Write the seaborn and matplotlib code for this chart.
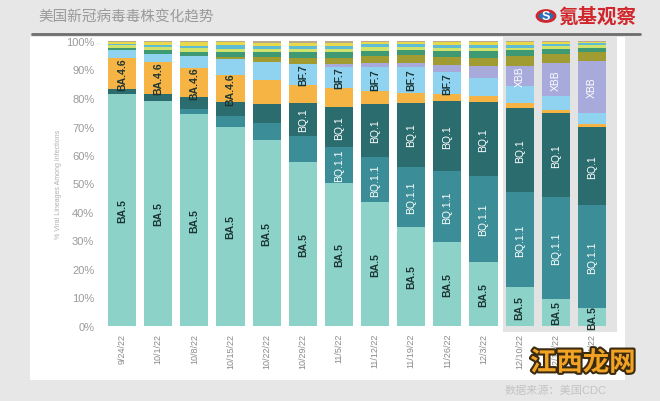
import numpy as np
import pandas as pd
import matplotlib
matplotlib.use('Agg')
import matplotlib.pyplot as plt
import matplotlib.patheffects as pe
from matplotlib.patches import Rectangle, Circle
import seaborn as sns

# weekly share of lineages (%)
dates = ['9/24/22', '10/1/22', '10/8/22', '10/15/22', '10/22/22', '10/29/22', '11/5/22',
         '11/12/22', '11/19/22', '11/26/22', '12/3/22', '12/10/22', '12/17/22', '12/24/22']

ba5 = [81.5, 79.0, 74.5, 69.8, 65.2, 57.6, 50.3, 43.5, 34.8, 29.5, 22.4, 13.6, 9.5, 6.4]
bq11 = [0, 0, 1.8, 3.9, 6.0, 9.1, 12.6, 15.8, 21.1, 24.9, 30.2, 33.3, 35.8, 36.1]
bq1 = [1.5, 2.5, 3.9, 4.9, 6.7, 11.6, 14.0, 18.6, 22.5, 24.6, 26.0, 29.5, 29.5, 27.4]
ba46 = [11.2, 11.2, 10.2, 9.5, 8.4, 6.3, 6.7, 4.6, 3.5, 2.5, 2.1, 1.8, 1.0, 1.0]
bf7 = [2.5, 2.8, 4.2, 5.6, 6.3, 7.4, 7.4, 8.4, 9.1, 7.7, 6.3, 6.0, 4.9, 3.9]
xbb = [0, 0, 0, 0, 0, 0, 1.0, 1.4, 1.4, 2.5, 4.2, 7.0, 11.6, 18.2]
ba275 = [0, 0, 0, 0.6, 1.8, 2.0, 2.2, 2.5, 2.6, 2.8, 3.0, 3.5, 3.2, 3.2]
bn1 = [1.0, 1.2, 1.6, 1.8, 1.6, 2.0, 1.8, 1.8, 1.8, 2.0, 2.2, 2.0, 1.8, 1.5]
ba4 = [0.8, 1.2, 1.2, 1.2, 1.2, 1.2, 1.2, 1.2, 1.2, 1.2, 1.2, 1.0, 1.0, 1.0]
ba2 = [0.5, 0.6, 1.0, 1.2, 1.2, 1.2, 1.2, 1.0, 1.0, 1.0, 1.0, 1.0, 0.8, 0.6]
ba5x = [0.7, 1.2, 1.2, 1.0, 1.0, 1.0, 1.0, 0.8, 0.8, 0.9, 0.9, 0.8, 0.6, 0.5]
other = [0.3, 0.4, 0.5, 0.5, 0.6, 0.6, 0.6, 0.4, 0.4, 0.5, 0.5, 0.5, 0.3, 0.2]

layers = {
    'BA.5': ba5, 'BQ.1.1': bq11, 'BQ.1': bq1, 'BA.4.6': ba46, 'BF.7': bf7, 'XBB': xbb,
    'BA.2.75': ba275, 'BN.1': bn1, 'BA.4': ba4, 'BA.2': ba2, 'BA.5.2.6': ba5x, 'Other': other,
}
colors = {
    'BA.5': '#8dd2c8', 'BQ.1.1': '#3b8e98', 'BQ.1': '#2b6c6f', 'BA.4.6': '#f5b443',
    'BF.7': '#8fd3f1', 'XBB': '#a8aadb', 'BA.2.75': '#a09c32', 'BN.1': '#3f9a73',
    'BA.4': '#cfe36c', 'BA.2': '#5ebdd5', 'BA.5.2.6': '#e7d84c', 'Other': '#b9aa8c',
}
# which bars get an inside label
labelled = {
    'BA.5': range(0, 14), 'BA.4.6': range(0, 4), 'BQ.1': range(5, 14),
    'BQ.1.1': range(6, 14), 'BF.7': range(5, 10), 'XBB': range(11, 14),
}
dark_text = ['BA.5', 'BA.4.6', 'BF.7']

df = pd.DataFrame(layers, index=dates)
cum = df.cumsum(axis=1)

sns.set_theme(style='white')
plt.rcParams['font.family'] = ['Liberation Sans', 'Noto Sans CJK SC', 'DejaVu Sans']

fig = plt.figure(figsize=(6.6, 4.02), dpi=100)
fig.patch.set_facecolor('#e7e7e7')

W, H = 660, 402


def fx(x):
    return x / W


def fy(y):
    return 1 - y / H


# white card and grey highlight behind the last three weeks
fig.patches.append(Rectangle((fx(30), fy(381)), fx(595), 343 / H, transform=fig.transFigure,
                             facecolor='white', edgecolor='none', zorder=-2))
fig.patches.append(Rectangle((fx(503), fy(333)), fx(114), 298 / H, transform=fig.transFigure,
                             facecolor='#e3e3e3', edgecolor='none', zorder=-1))

ax = fig.add_axes([fx(104), fy(327), 506 / W, 285 / H])
ax.set_facecolor('none')
ax.set_zorder(2)

# stacked bars: draw cumulative totals from the top layer down
names = list(layers.keys())
for name in reversed(names):
    sns.barplot(x=dates, y=cum[name].values, color=colors[name], saturation=1,
                width=0.78, edgecolor='none', linewidth=0, ax=ax)

for name, idx in labelled.items():
    tops = cum[name].values
    vals = df[name].values
    for i in idx:
        dark = name in dark_text
        ax.text(i, tops[i] - vals[i] / 2, name, rotation=90, ha='center', va='center',
                fontsize=7.5, fontweight='bold' if dark else 'normal',
                color='#1b3433' if dark else 'white')

ax.set_xlim(-0.5, 13.5)
ax.set_ylim(0, 100)
ax.set_yticks(np.arange(0, 101, 10))
ax.set_yticklabels([f'{v}%' for v in range(0, 101, 10)], fontsize=8, color='#9a9a9a')
ax.set_xticks(range(len(dates)))
ax.set_xticklabels(dates, rotation=90, fontsize=6.5, color='#8a8a8a')
ax.tick_params(axis='both', length=0)
ax.tick_params(axis='y', pad=7)
ax.tick_params(axis='x', pad=5)
ax.set_ylabel('% Viral Lineages Among Infections', fontsize=5, color='#b0b0b0', labelpad=3)
for s in ax.spines.values():
    s.set_visible(False)

# header
fig.text(fx(38), fy(17), '美国新冠病毒毒株变化趋势', fontsize=10.5, color='#9a9a9a',
         va='center', ha='left')
fig.add_artist(plt.Line2D([fx(32), fx(640)], [fy(35), fy(35)], color='#6d6d6d', lw=2))
fig.patches.append(Circle((fx(546), fy(17)), 9 / W, transform=fig.transFigure,
                          facecolor='#2a6fb5', edgecolor='#d1262c', lw=2))
fig.text(fx(546), fy(17.5), 'S', fontsize=9, color='white', fontweight='bold',
         ha='center', va='center')
fig.text(fx(558), fy(17), '氪基观察', fontsize=14, color='#d1262c', fontweight='bold',
         va='center', ha='left')

# source + watermark
fig.text(fx(505), fy(391), '数据来源：美国CDC', fontsize=8, color='#c4c4c4',
         va='center', ha='left')
wm = fig.text(fx(530), fy(364), '江西龙网', fontsize=19, color='#f2a323', fontweight='bold',
              va='center', ha='left', zorder=5)
wm.set_path_effects([pe.withStroke(linewidth=3, foreground='#3a2a10')])

fig.savefig('out.png', dpi=100, facecolor=fig.get_facecolor())
